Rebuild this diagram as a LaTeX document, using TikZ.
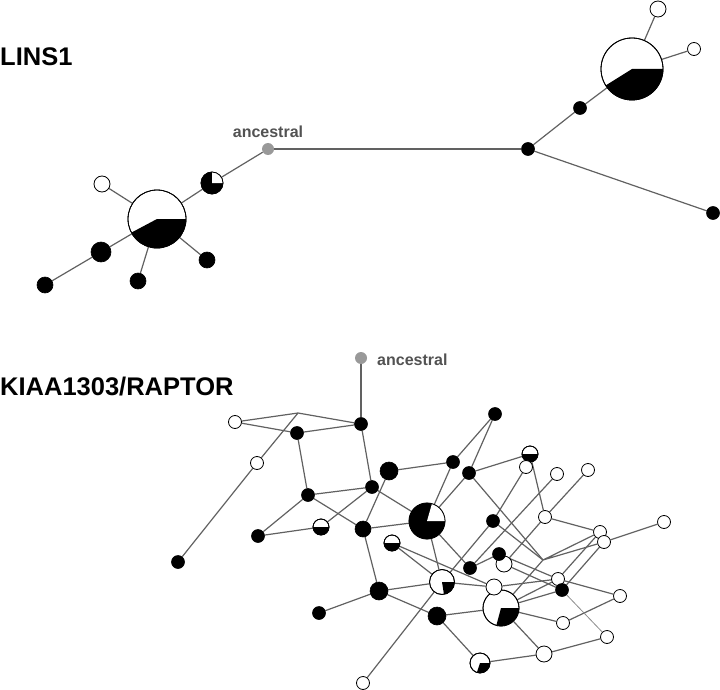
\documentclass[tikz,border=0pt]{standalone}
\usepackage{fontspec}
\setmainfont{Liberation Sans}
\usetikzlibrary{backgrounds}

% filled sector of a pie node, outline drawn again on top
\newcommand{\piewedge}[5]{%
  \fill[#2] (#1.center) -- ++(#3:#5) arc[start angle=#3, end angle=#4, radius=#5] -- cycle;
  \draw[line width=0.8pt] (#1.center) circle (#5);}

\begin{document}
\begin{tikzpicture}[x=1pt, y=-1pt,
  blk/.style={circle, draw=black, fill=black, line width=0.6pt, inner sep=0pt, minimum size=#1},
  blk/.default=13pt,
  wht/.style={circle, draw=black, fill=white, line width=0.8pt, inner sep=0pt, minimum size=#1},
  wht/.default=13pt,
  anc/.style={circle, fill=black!40, inner sep=0pt, minimum size=12pt},
  link/.style={draw=black!62, line width=1.2pt},
  title/.style={anchor=base west, inner sep=0pt, font=\bfseries\fontsize{25.5}{30}\selectfont},
  anclab/.style={inner sep=0pt, text=black!68, font=\bfseries\fontsize{16}{19}\selectfont}]
\useasboundingbox (0,0) rectangle (720,690);

% Titles
\node[title] (tlins) at (0,66) {LINS1};
\node[title] (traptor) at (0,395) {KIAA1303/RAPTOR};

% LINS1 network
\node[anc] (lroot) at (268,149) {};
\node[anclab, anchor=base] (lrootlab) at (268,138) {ancestral};
\node[blk] (l1) at (528,149) {};
\node[blk] (l2) at (580,108) {};
\node[wht=62pt] (lbigR) at (632,69) {};
\piewedge{lbigR}{black}{-148}{0}{31pt}
\node[wht=16pt] (l3) at (658,9) {};
\node[wht] (l4) at (694,49) {};
\node[blk] (l5) at (713,213) {};
\node[blk=22pt] (lsmall) at (212,183) {};
\piewedge{lsmall}{white}{0}{90}{11pt}
\node[wht=58pt] (lbigL) at (157,219) {};
\piewedge{lbigL}{black}{-152}{0}{29pt}
\node[wht=16pt] (l6) at (102,184) {};
\node[blk=20pt] (l7) at (101,252) {};
\node[blk=16pt] (l8) at (45,285) {};
\node[blk=16pt] (l9) at (138,281) {};
\node[blk=16pt] (l10) at (207,260) {};

% RAPTOR network
\node[anc] (rroot) at (361,358) {};
\node[anclab, anchor=base west] (rrootlab) at (377,365) {ancestral};
\node[blk] (r1) at (361,424) {};
\node[wht] (r2) at (235,422) {};
\coordinate (rj1) at (298,413);
\node[blk] (r3) at (297,433) {};
\node[wht] (r4) at (257,463) {};
\node[blk] (r5) at (178,562) {};
\node[blk] (r6) at (308,495) {};
\node[blk] (r7) at (372,487) {};
\node[blk=18pt] (r8) at (389,471) {};
\node[blk] (r9) at (453,462) {};
\node[blk] (r10) at (469,473) {};
\node[blk] (r11) at (495,414) {};
\node[wht=16pt] (r12) at (530,454) {};
\piewedge{r12}{black}{180}{360}{8pt}
\node[wht] (r13) at (526,467) {};
\node[wht] (r14) at (557,474) {};
\node[wht] (r15) at (588,470) {};
\node[wht] (r16) at (545,517) {};
\node[wht] (r17) at (664,522) {};
\node[wht] (r18) at (600,532) {};
\node[wht] (r19) at (604,542) {};
\node[blk] (r20) at (258,536) {};
\node[wht=16pt] (r21) at (321,527) {};
\piewedge{r21}{black}{180}{360}{8pt}
\node[blk=16pt] (r22) at (363,529) {};
\node[blk=36pt] (r23) at (427,521) {};
\piewedge{r23}{white}{0}{74}{18pt}
\node[wht=16pt] (r24) at (392,543) {};
\piewedge{r24}{black}{180}{360}{8pt}
\node[blk] (r25) at (493,521) {};
\node[wht=16pt] (r27) at (504,564) {};
\node[blk] (r26) at (499,554) {};
\node[blk] (r28) at (470,568) {};
\node[wht=25pt] (r29) at (442,582) {};
\piewedge{r29}{black}{-81}{0}{12.5pt}
\node[wht=36pt] (r31) at (501,608) {};
\piewedge{r31}{black}{-105}{0}{18pt}
\node[wht=16pt] (r30) at (494,587) {};
\coordinate (rj2) at (543,560);
\node[wht] (r32) at (558,579) {};
\node[blk] (r33) at (562,590) {};
\node[wht] (r34) at (620,596) {};
\node[wht] (r35) at (563,623) {};
\node[blk=18pt] (r36) at (379,591) {};
\node[blk] (r37) at (319,613) {};
\node[blk=18pt] (r38) at (437,616) {};
\node[wht=20pt] (r39) at (480,663) {};
\piewedge{r39}{black}{-108}{0}{10pt}
\node[wht=16pt] (r40) at (544,654) {};
\node[wht] (r41) at (607,637) {};
\node[wht] (r42) at (363,683) {};

% Connectors behind the nodes
\begin{scope}[on background layer]
  % LINS1
  \draw[link] (lroot) -- (l1);
  \draw[link] (l1) -- (l2);
  \draw[link] (l2) -- (lbigR);
  \draw[link] (lbigR) -- (l3);
  \draw[link] (lbigR) -- (l4);
  \draw[link] (l1) -- (l5);
  \draw[link] (lroot) -- (lsmall);
  \draw[link] (lsmall) -- (lbigL);
  \draw[link] (lbigL) -- (l6);
  \draw[link] (lbigL) -- (l7);
  \draw[link] (l7) -- (l8);
  \draw[link] (lbigL) -- (l9);
  \draw[link] (lbigL) -- (l10);
  % RAPTOR, upper left part
  \draw[link] (rroot) -- (r1);
  \draw[link] (r2) -- (rj1) -- (r1);
  \draw[link] (r2) -- (r3) -- (r1);
  \draw[link] (rj1) -- (r4) -- (r5);
  \draw[link] (r3) -- (r6) -- (r7) -- (r1);
  \draw[link] (r6) -- (r20) -- (r21) -- (r7);
  \draw[link] (r6) -- (r22);
  \draw[link] (r8) -- (r22) -- (r36);
  \draw[link] (r8) -- (r9);
  \draw[link] (r7) -- (r23);
  \draw[link] (r22) -- (r23);
  % RAPTOR, upper right part
  \draw[link] (r9) -- (r11) -- (r10);
  \draw[link] (r9) -- (r23) -- (r10);
  \draw[link] (r10) -- (r12) -- (r13);
  \draw[link] (r12) -- (r16);
  \draw[link] (r15) -- (r16) -- (r18);
  \draw[link] (r16) -- (r27);
  \draw[link] (r13) -- (r25) -- (r29);
  \draw[link] (r14) -- (r28);
  \draw[link] (r19) -- (r17);
  \draw[link] (r10) -- (rj2);
  \draw[link] (r25) -- (rj2);
  \draw[link] (r18) -- (rj2) -- (r19);
  \draw[link] (rj2) -- (r31);
  \draw[link] (r18) -- (r32);
  \draw[link] (r19) -- (r33);
  % RAPTOR, lower part
  \draw[link] (r23) -- (r29);
  \draw[link] (r23) -- (r28) -- (r26);
  \draw[link] (r24) -- (r29);
  \draw[link] (r24) -- (r30);
  \draw[link] (r36) -- (r29);
  \draw[link] (r36) -- (r37);
  \draw[link] (r36) -- (r38);
  \draw[link] (r38) -- (r39) -- (r40);
  \draw[link] (r38) -- (r31);
  \draw[link] (r42) -- (r29);
  \draw[link] (r29) -- (r30) -- (r32);
  \draw[link] (r26) -- (r32);
  \draw[link] (r27) -- (r33);
  \draw[link] (r31) -- (r32);
  \draw[link] (r31) -- (r33);
  \draw[link] (r31) -- (r35) -- (r34) -- (r32);
  \draw[link] (r31) -- (r40) -- (r41);
  \draw[draw=black!45, line width=0.8pt] (r33) -- (r41);
\end{scope}
\end{tikzpicture}
\end{document}
